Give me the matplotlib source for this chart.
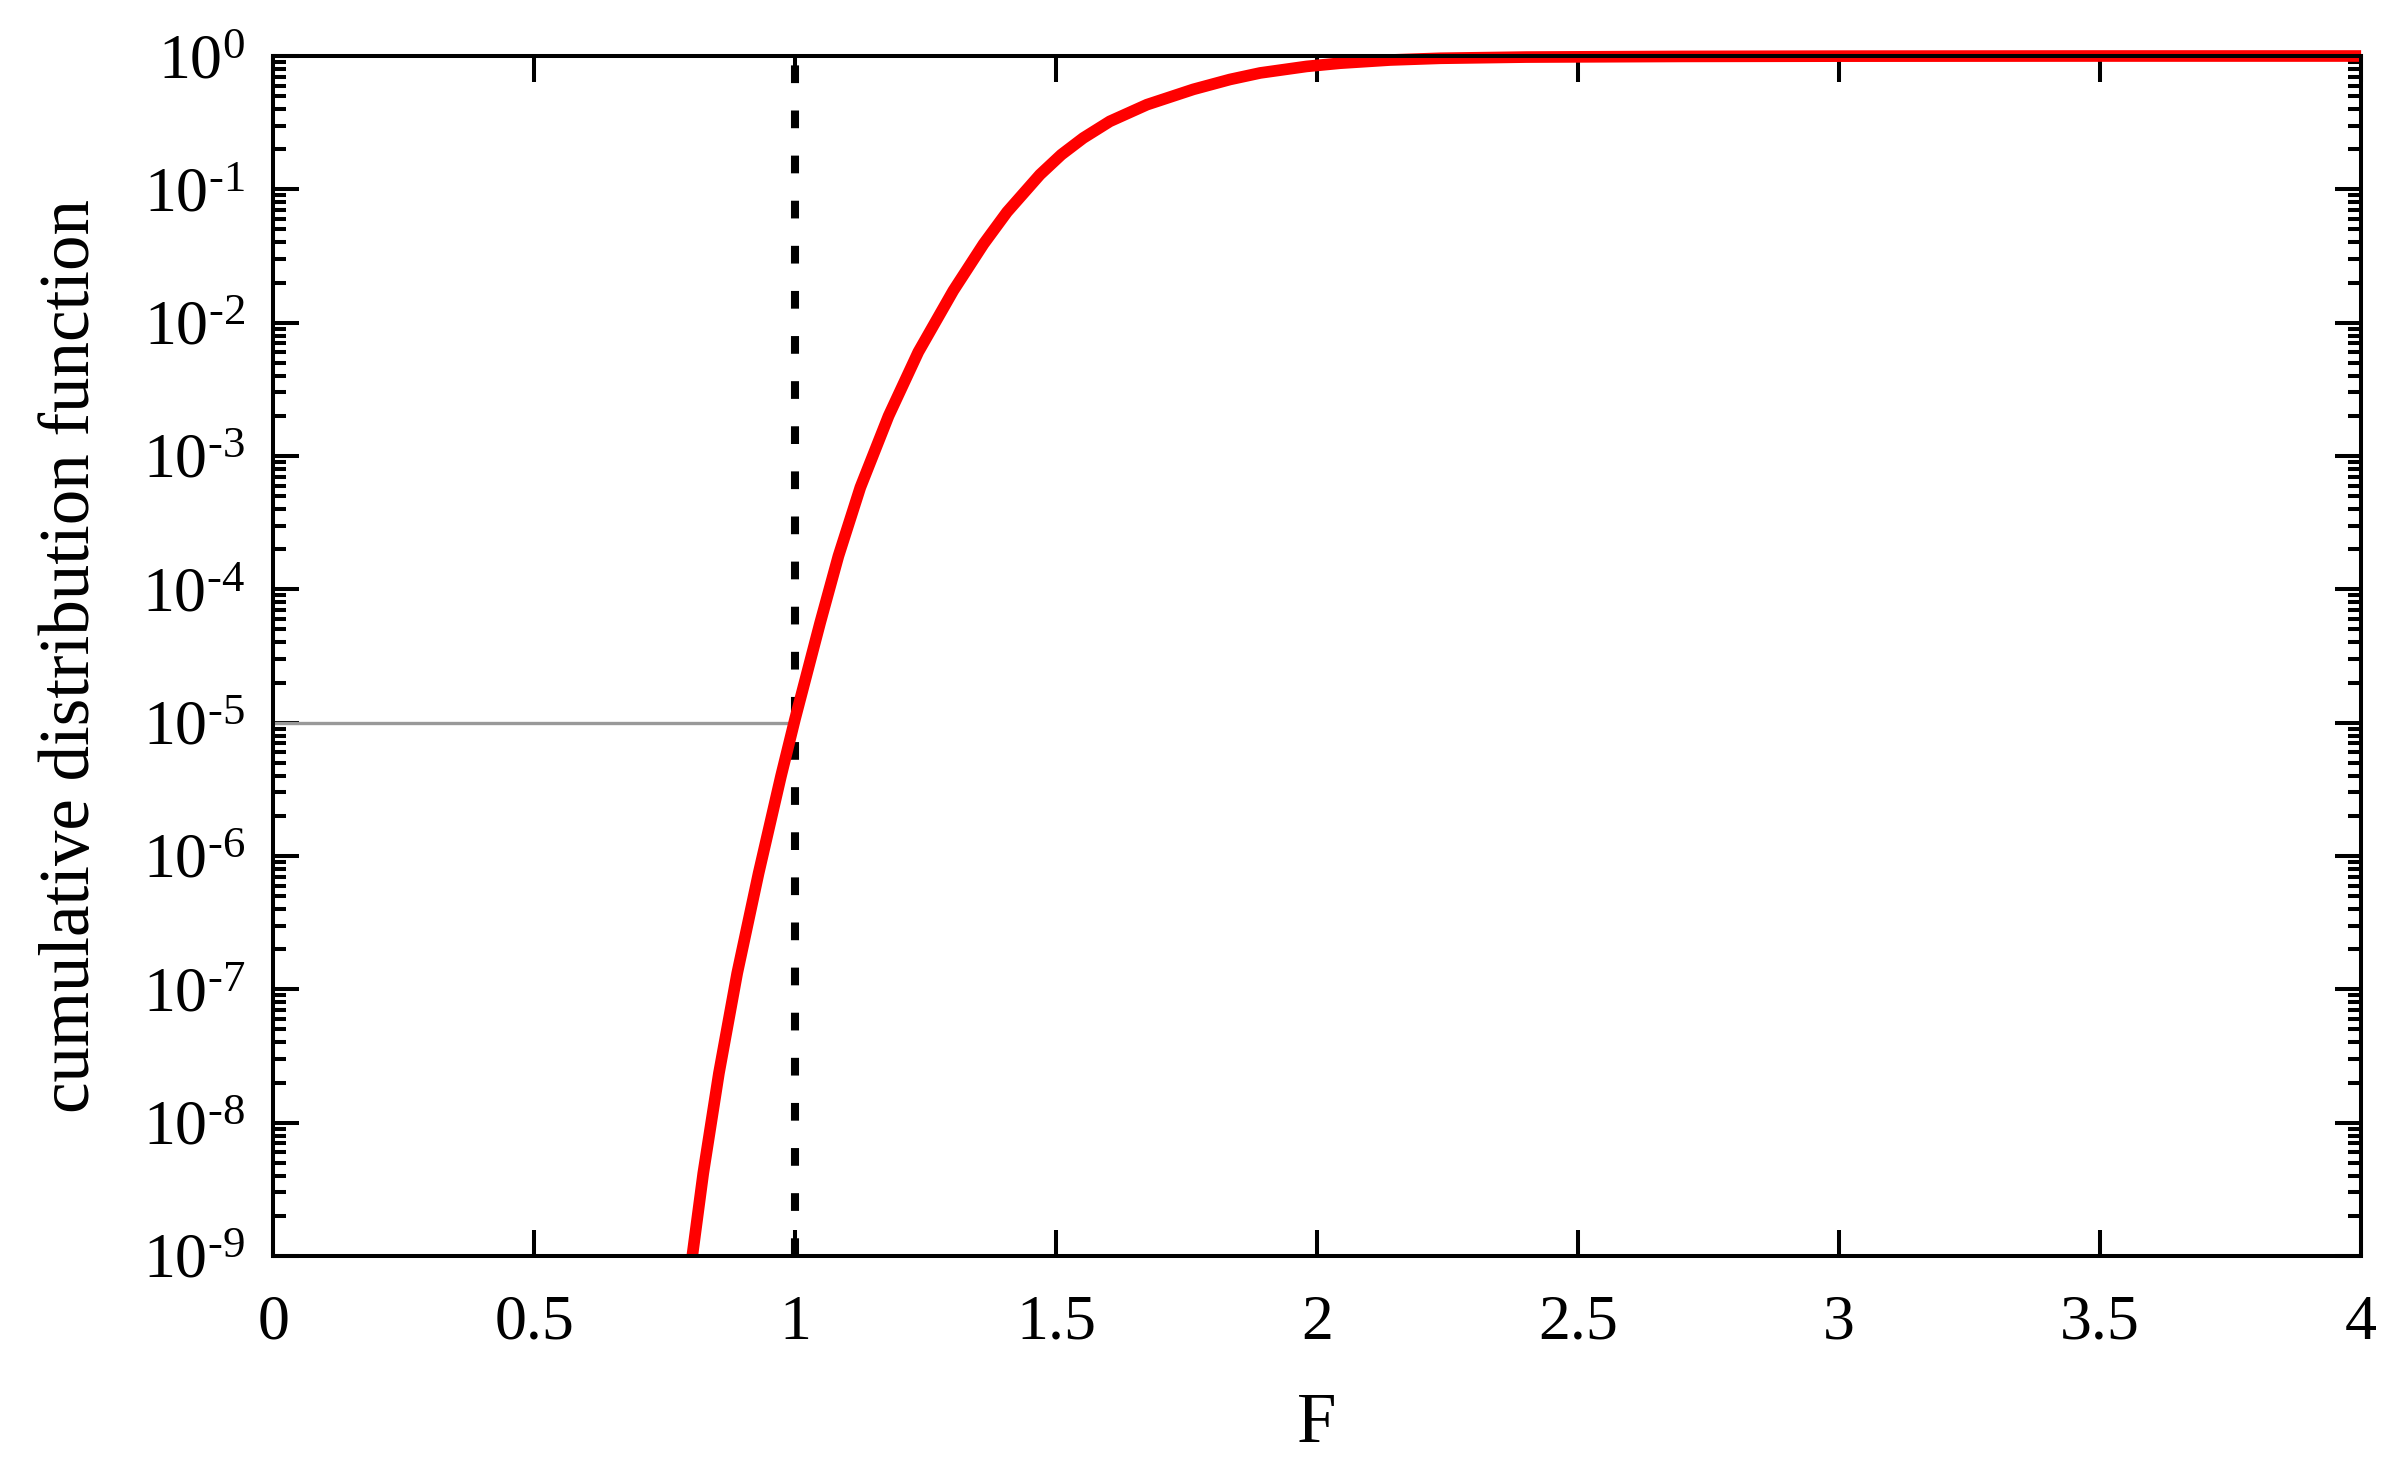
import matplotlib
matplotlib.use("Agg")
import matplotlib.pyplot as plt
from matplotlib.ticker import FuncFormatter, LogLocator, FixedLocator, NullLocator
import numpy as np

plt.rcParams['font.family'] = ['Liberation Serif', 'DejaVu Serif']
plt.rcParams['mathtext.fontset'] = 'custom'
plt.rcParams['mathtext.rm'] = 'Liberation Serif'
plt.rcParams['mathtext.it'] = 'Liberation Serif:italic'
plt.rcParams['mathtext.bf'] = 'Liberation Serif:bold'

# curve: F value and log10 of the CDF
F_values = [0.803, 0.824, 0.854, 0.889, 0.930, 0.973, 1.000, 1.048, 1.083,
            1.125, 1.179, 1.236, 1.303, 1.361, 1.406, 1.469, 1.510, 1.552,
            1.603, 1.674, 1.763, 1.833, 1.891, 1.980, 2.044, 2.140, 2.236,
            2.400, 2.700, 3.000, 3.500, 4.000]
log_cdf = [-9.00, -8.38, -7.63, -6.88, -6.13, -5.40, -4.97, -4.25, -3.75,
           -3.235, -2.70, -2.22, -1.76, -1.41, -1.17, -0.89, -0.74, -0.615,
           -0.49, -0.365, -0.25, -0.176, -0.127, -0.078, -0.054, -0.030, -0.017,
           -0.008, -0.003, -0.001, 0.0, 0.0]
cdf_values = [10.0 ** v for v in log_cdf]

threshold_F = 1.0
target_prob = 1e-5

x_ticks = [0, 0.5, 1, 1.5, 2, 2.5, 3, 3.5, 4]
x_tick_labels = ['0', '0.5', '1', '1.5', '2', '2.5', '3', '3.5', '4']
y_exponents = list(range(-9, 1))

fig = plt.figure(figsize=(12, 7.35), dpi=200)
ax = fig.add_axes([0.1138, 0.1456, 0.8700, 0.8163])

ax.plot([0, threshold_F], [target_prob, target_prob], color='#999999', lw=1.2, zorder=3)
ax.axvline(threshold_F, color='black', lw=2.9, dashes=(2.2, 3.4), zorder=2)
ax.plot(F_values, cdf_values, color='#ff0000', lw=4.2, zorder=4,
        solid_capstyle='butt', solid_joinstyle='round', clip_on=False)

ax.set_yscale('log')
ax.set_xlim(0, 4)
ax.set_ylim(1e-9, 1)

ax.xaxis.set_major_locator(FixedLocator(x_ticks))
ax.set_xticklabels(x_tick_labels)
ax.xaxis.set_minor_locator(NullLocator())
ax.yaxis.set_major_locator(FixedLocator([10.0 ** e for e in y_exponents]))
ax.yaxis.set_minor_locator(LogLocator(base=10, subs=np.arange(2, 10), numticks=100))

def yfmt(v, pos):
    e = int(round(np.log10(v)))
    if e < 0:
        return r'$10^{\text{-%d}}$' % (-e)
    return r'$10^{%d}$' % e

ax.yaxis.set_major_formatter(FuncFormatter(yfmt))

ax.tick_params(which='both', direction='in', top=True, right=True, width=1.45, labelsize=23, colors='black')
ax.tick_params(which='major', length=9.4)
ax.tick_params(which='minor', length=4.7)
ax.tick_params(axis='x', which='major', pad=14)
ax.tick_params(axis='y', which='major', pad=10)

for s in ax.spines.values():
    s.set_linewidth(1.45)
    s.set_zorder(6)

ax.set_xlabel('F', fontsize=25.5, labelpad=14)
ax.set_ylabel('cumulative distribution function', fontsize=25.5, labelpad=14)

fig.savefig('out.png', dpi=200)
